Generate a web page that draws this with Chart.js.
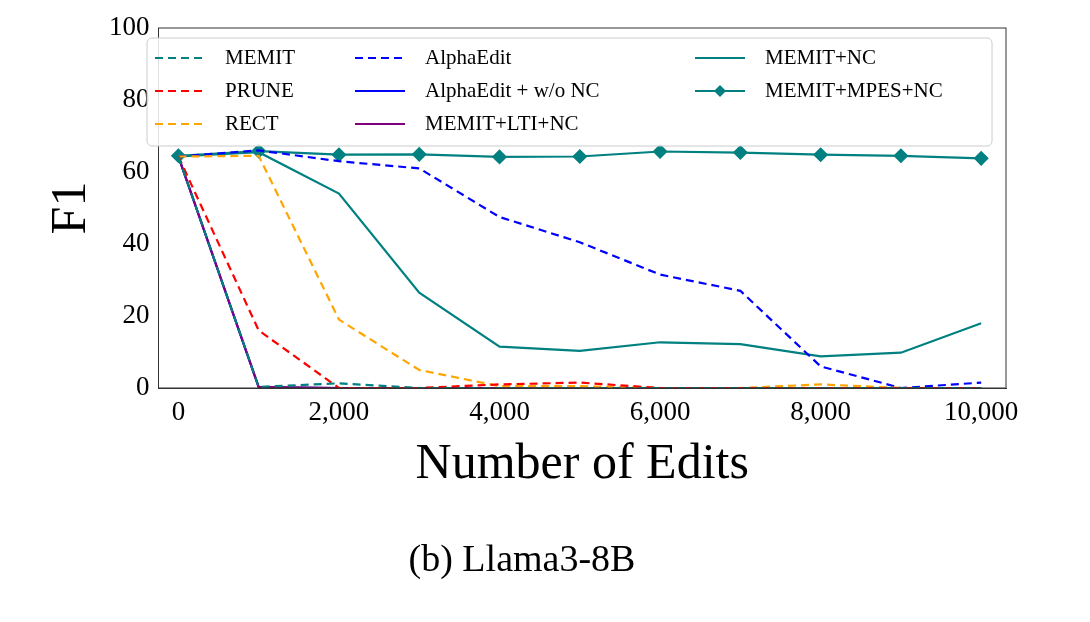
<!DOCTYPE html><html><head><script src="https://cdn.jsdelivr.net/npm/chart.js@4"></script>
<style>body{margin:0;background:#fff}#w{width:1090px;height:622px}</style></head><body><div id="w"><canvas id="c"></canvas></div>
<script>
const edits=[0,1000,2000,3000,4000,5000,6000,7000,8000,9000,10000];
const memit=[64.3,0.3,1.3,0,0,0,0,0,0,0,0];
const prune=[64.3,16,0,0,1,1.5,0,0,0,0,0];
const rect=[64.3,64.5,19,5,0.5,0.5,0,0,1,0,0];
const alpha=[64.3,66,63,61,47.5,40.5,31.5,27,6,0,1.5];
const alphaWo=[64.3,0.2,0,0,0,0,0,0,0,0,0];
const lti=[64.3,0.3,0,0,0,0,0,0,0,0,0];
const memitNC=[64.3,65.5,54,26.5,11.5,10.3,12.7,12.2,8.8,9.8,18];
const mpes=[64.5,65.8,64.8,64.9,64.2,64.3,65.7,65.4,64.8,64.5,63.8];
const F='Liberation Serif';
function ds(label,data,color,dash,marker,order){return{label,order:order||0,data:data.map((y,i)=>({x:edits[i],y})),borderColor:color,backgroundColor:color,borderDash:dash?[8,5]:[],borderWidth:2.2,pointRadius:marker?6:0,pointStyle:marker?'rectRot':'circle',tension:0};}
const frame={id:'frame',afterDraw(c){const a=c.chartArea,x=c.ctx;x.save();x.strokeStyle='#333';x.lineWidth=1;x.strokeRect(a.left,a.top,a.right-a.left,a.bottom-a.top);x.restore();}};
new Chart(document.getElementById('c'),{type:'line',data:{datasets:[
ds('MEMIT',memit,'#008080',1),ds('PRUNE',prune,'#ff0000',1),ds('RECT',rect,'#ffa500',1),
ds('AlphaEdit',alpha,'#0000ff',1),ds('AlphaEdit + w/o NC',alphaWo,'#0000ff',0,0,2),ds('MEMIT+LTI+NC',lti,'#800080',0,0,1),
ds('MEMIT+NC',memitNC,'#008080',0),ds('MEMIT+MPES+NC',mpes,'#008080',0,1)]},
options:{responsive:true,maintainAspectRatio:false,animation:false,
layout:{padding:{left:38,right:84,top:28,bottom:38}},
plugins:{legend:{display:false},title:{display:true,position:'bottom',text:'(b) Llama3-8B',font:{family:F,size:38,weight:'normal'},color:'#000',padding:{top:40,bottom:0}}},
scales:{x:{type:'linear',min:-248,max:10309,grid:{display:false,drawTicks:true,tickLength:6},border:{color:'#333'},
ticks:{stepSize:2000,font:{family:F,size:27},color:'#000'},afterBuildTicks(a){a.ticks=[0,2000,4000,6000,8000,10000].map(v=>({value:v}));},
title:{display:true,text:'Number of Edits',font:{family:F,size:50},color:'#000',padding:{top:2}}},
y:{min:0,max:100,grid:{display:false,tickLength:6},border:{color:'#333'},ticks:{stepSize:20,font:{family:F,size:27},color:'#000'},
title:{display:true,text:'F1',font:{family:F,size:50},color:'#000'}}}},
plugins:[frame,{id:'leg',afterDraw(c){const x=c.ctx,a=c.chartArea;const L=147,T=38;x.save();
x.fillStyle='rgba(255,255,255,0.85)';x.strokeStyle='#ccc';x.lineWidth=1;x.beginPath();x.roundRect(L,T,845,108,5);x.fill();x.stroke();
const cols=[155,355,695];x.font='21px '+F;x.textBaseline='middle';
c.data.datasets.forEach((d,i)=>{const col=Math.floor(i/3),row=i%3;const px=cols[col],py=T+20+row*33;
x.strokeStyle=d.borderColor;x.lineWidth=2.2;x.setLineDash(d.borderDash);x.beginPath();x.moveTo(px,py);x.lineTo(px+50,py);x.stroke();x.setLineDash([]);
if(d.pointRadius){x.fillStyle=d.borderColor;x.beginPath();x.moveTo(px+25,py-6);x.lineTo(px+31,py);x.lineTo(px+25,py+6);x.lineTo(px+19,py);x.fill();}
x.fillStyle='#000';x.fillText(d.label,px+70,py);});x.restore();}}]});
</script></body></html>
